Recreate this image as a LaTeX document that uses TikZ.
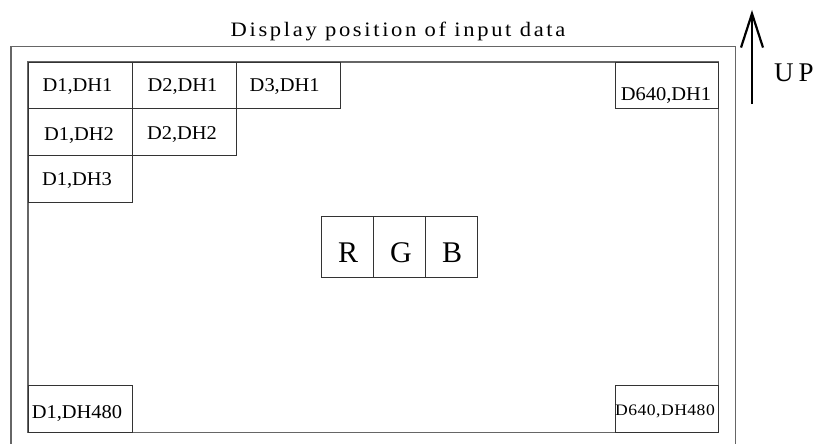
\documentclass[tikz,border=0pt]{standalone}
\usepackage{fontspec}
\setmainfont{Liberation Serif}
\newfontfamily\cellfont{Liberation Serif}[FakeStretch=1.05]
\newfontfamily\smallfont{Liberation Serif}[FakeStretch=1.1,LetterSpace=3]
\newfontfamily\titlefont{Liberation Serif}[FakeStretch=1.1,LetterSpace=13]
\newfontfamily\upfont{Liberation Serif}[LetterSpace=18]
\usetikzlibrary{arrows.meta}
\begin{document}
\begin{tikzpicture}[x=1pt,y=-1pt,
  frame/.style={draw=black!60,line width=1.1pt},
  cell/.style={draw=black!80,line width=0.9pt},
  lbl/.style={anchor=base,inner sep=0pt,font=\cellfont\fontsize{19.5}{22}\selectfont},
  lblsmall/.style={anchor=base,inner sep=0pt,font=\smallfont\fontsize{16}{19}\selectfont},
  rgb/.style={anchor=base,inner sep=0pt,font=\fontsize{30}{34}\selectfont}]
\useasboundingbox (0,0) rectangle (824,444);
% outer frame
\draw[frame] (11,444) -- (11,46.7) -- (735.5,46.7) -- (735.5,444);
% inner frame
\draw[frame] (28,62) rectangle (718.7,432.3);
% cells
\draw[cell] (28,62) rectangle (132,108.7);
\draw[cell] (132,62) rectangle (236,108.7);
\draw[cell] (236,62) rectangle (340,108.7);
\draw[cell] (28,108.7) rectangle (132,155);
\draw[cell] (132,108.7) rectangle (236,155);
\draw[cell] (28,155) rectangle (132,202);
\draw[cell] (615.3,62) rectangle (718.7,108.7);
\draw[cell] (28,385.3) rectangle (132,432.3);
\draw[cell] (615.3,385.3) rectangle (718.7,432.3);
\draw[cell] (321.7,216.7) rectangle (373.3,277.3);
\draw[cell] (373.3,216.7) rectangle (425.3,277.3);
\draw[cell] (425.3,216.7) rectangle (477,277.3);
% labels
\node[anchor=base,inner sep=0pt,font=\titlefont\fontsize{20.5}{24}\selectfont] (title) at (398,37) {Display position of input data};
\node[lbl] (c11) at (77.5,92) {D1,DH1};
\node[lbl] (c21) at (182.5,92) {D2,DH1};
\node[lbl] (c31) at (284.7,91) {D3,DH1};
\node[lbl] (c12) at (79,140) {D1,DH2};
\node[lbl] (c22) at (182,139) {D2,DH2};
\node[lbl] (c13) at (77,185) {D1,DH3};
\node[lbl] (c6401) at (666,100) {D640,DH1};
\node[lbl] (c1480) at (77,418.3) {D1,DH480};
\node[lblsmall] (c640480) at (665,415.7) {D640,DH480};
\node[rgb] (r) at (348,262.3) {R};
\node[rgb] (g) at (401,262.3) {G};
\node[rgb] (b) at (452,262.3) {B};
% up arrow
\coordinate (upS) at (752,104);
\coordinate (upE) at (752,10);
\draw[line width=2.6pt,-{Straight Barb[length=34pt,width=22pt,line width=2.2pt]}] (upS) -- (upE);
\node[anchor=base west,inner sep=0pt,font=\upfont\fontsize{27}{30}\selectfont] (up) at (774,81.7) {UP};
\end{tikzpicture}
\end{document}
